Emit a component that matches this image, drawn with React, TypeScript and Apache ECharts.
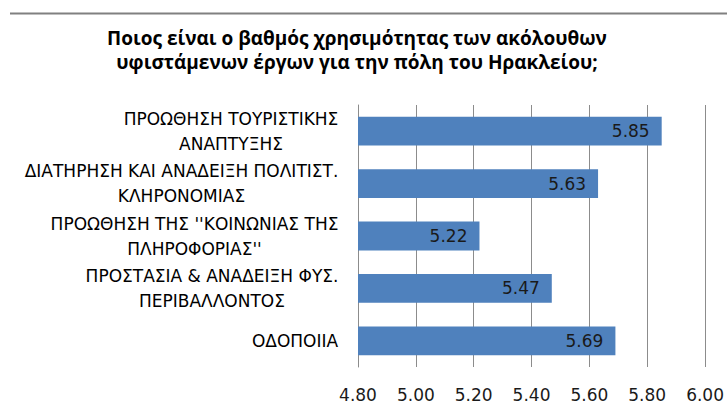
import React, { useEffect, useRef } from "react";
import * as echarts from "echarts";

const titleLines = [
  "Ποιος είναι ο βαθμός χρησιμότητας των ακόλουθων",
  "υφιστάμενων έργων για την πόλη του Ηρακλείου;",
];
const categories = [
  "ΠΡΟΩΘΗΣΗ ΤΟΥΡΙΣΤΙΚΗΣ\nΑΝΑΠΤΥΞΗΣ",
  "ΔΙΑΤΗΡΗΣΗ ΚΑΙ ΑΝΑΔΕΙΞΗ ΠΟΛΙΤΙΣΤ.\nΚΛΗΡΟΝΟΜΙΑΣ",
  "ΠΡΟΩΘΗΣΗ ΤΗΣ ''ΚΟΙΝΩΝΙΑΣ ΤΗΣ\nΠΛΗΡΟΦΟΡΙΑΣ''",
  "ΠΡΟΣΤΑΣΙΑ & ΑΝΑΔΕΙΞΗ ΦΥΣ.\nΠΕΡΙΒΑΛΛΟΝΤΟΣ",
  "ΟΔΟΠΟΙΙΑ",
];
const values = [5.85, 5.63, 5.22, 5.47, 5.69];
const axisMin = 4.8;
const axisMax = 6.0;
const axisStep = 0.2;

const FONT = "'DejaVu Sans', sans-serif";
const TITLE_FONT = "'Open Sans', 'DejaVu Sans', sans-serif";
const CAT_SIZE = 17;

function measure(text: string, size: number): number {
  const c = document.createElement("canvas");
  const ctx = c.getContext("2d");
  if (!ctx) return text.length * size * 0.65;
  ctx.font = `${size}px 'DejaVu Sans', sans-serif`;
  return ctx.measureText(text).width;
}

function blockWidth(cat: string): number {
  const lines = cat.split("\n");
  return Math.ceil(Math.max(...lines.map((l) => measure(l, CAT_SIZE)))) + 1;
}

export default function App() {
  const ref = useRef<HTMLDivElement>(null);
  useEffect(() => {
    if (!ref.current) return;
    const chart = echarts.init(ref.current, undefined, { renderer: "svg" });
    const catFormatter = (value: string) => {
      const w = blockWidth(value);
      return value
        .split("\n")
        .map((l) => `{c${w}|${l}}`)
        .join("\n");
    };
    const rich: Record<string, any> = {};
    categories.forEach((cat) => {
      const w = blockWidth(cat);
      rich["c" + w] = {
        width: w,
        align: "center",
        fontSize: CAT_SIZE,
        fontFamily: FONT,
        color: "#000000",
        lineHeight: 25,
      };
    });
    chart.setOption({
      animation: false,
      backgroundColor: "#ffffff",
      textStyle: { fontFamily: FONT },
      graphic: [
        {
          type: "line",
          shape: { x1: 10, y1: 13.5, x2: 727, y2: 13.5 },
          style: { stroke: "#808080", lineWidth: 2 },
        },
        {
          type: "text",
          x: 357,
          y: 25.5,
          style: {
            text: titleLines.join("\n"),
            fontFamily: TITLE_FONT,
            fontSize: 19,
            fontWeight: "bold",
            fill: "#000000",
            align: "center",
            verticalAlign: "top",
            lineHeight: 24,
          },
        },
      ],
      grid: { left: 358, right: 19, top: 105, bottom: 40, containLabel: false },
      xAxis: {
        type: "value",
        min: axisMin,
        max: axisMax,
        interval: axisStep,
        axisLine: { show: false },
        axisTick: { show: false },
        splitLine: { show: true, lineStyle: { color: "#8c8c8c", width: 1 } },
        axisLabel: {
          formatter: (v: number) => v.toFixed(2),
          fontSize: 17,
          color: "#1a1a1a",
          margin: 19,
          fontFamily: FONT,
        },
      },
      yAxis: {
        type: "category",
        data: categories,
        inverse: true,
        axisLine: { show: true, lineStyle: { color: "#8c8c8c", width: 1 } },
        axisTick: { show: false },
        axisLabel: {
          fontSize: CAT_SIZE,
          color: "#000000",
          margin: 19,
          lineHeight: 25,
          align: "right",
          fontFamily: FONT,
          formatter: catFormatter,
          rich,
        },
      },
      series: [
        {
          type: "bar",
          data: values,
          barCategoryGap: "45%",
          itemStyle: { color: "#4F81BD" },
          label: {
            show: true,
            position: "insideRight",
            distance: 12,
            formatter: (p: any) => p.value.toFixed(2),
            fontSize: 17,
            color: "#1a1a1a",
            fontFamily: FONT,
          },
        },
      ],
    });
    return () => chart.dispose();
  }, []);
  return <div ref={ref} style={{ width: 727, height: 407, position: "absolute", left: 0, top: 0 }} />;
}
